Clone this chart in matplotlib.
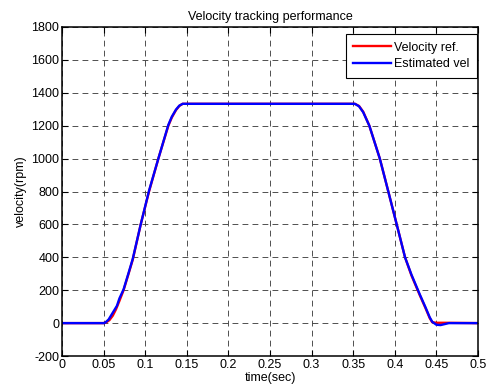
import matplotlib
matplotlib.use('Agg')
import matplotlib.pyplot as plt

# velocity reference (rpm) vs time (sec)
t_ref = [0, 0.05, 0.053, 0.057, 0.061, 0.065, 0.069, 0.074, 0.08, 0.085, 0.0946, 0.1046,
         0.1158, 0.1278, 0.132, 0.137, 0.141, 0.145, 0.35, 0.352, 0.357, 0.362, 0.3694,
         0.382, 0.3922, 0.4023, 0.4123, 0.42, 0.43, 0.437, 0.442, 0.445, 0.45, 0.46, 0.5]
v_ref = [0, 0, 4, 18, 45, 85, 135, 200, 300, 385, 600, 800,
         1000, 1200, 1250, 1295, 1320, 1333, 1333, 1333, 1320, 1285, 1200,
         1000, 800, 600, 400, 290, 170, 90, 30, 5, 2, 2, 0]

# estimated velocity
t_est = [0, 0.05, 0.052, 0.056, 0.06, 0.063, 0.066, 0.069, 0.074, 0.08, 0.085, 0.0946, 0.1046,
         0.1158, 0.1278, 0.132, 0.137, 0.141, 0.145, 0.35, 0.352, 0.357, 0.362, 0.3694,
         0.382, 0.3922, 0.4023, 0.4123, 0.42, 0.43, 0.437, 0.442, 0.445, 0.45, 0.455, 0.465, 0.5]
v_est = [0, 0, 3, 22, 55, 80, 105, 150, 205, 305, 390, 600, 805,
         1000, 1205, 1255, 1298, 1322, 1333, 1333, 1333, 1318, 1282, 1200,
         1000, 800, 600, 400, 295, 175, 95, 35, 8, -10, -12, 0, 0]

x_ticks = [0, 0.05, 0.1, 0.15, 0.2, 0.25, 0.3, 0.35, 0.4, 0.45, 0.5]
y_ticks = [-200, 0, 200, 400, 600, 800, 1000, 1200, 1400, 1600, 1800]

plt.rcParams['font.family'] = ['Liberation Sans', 'DejaVu Sans']
plt.rcParams['font.size'] = 9
plt.rcParams['axes.unicode_minus'] = False

fig = plt.figure(figsize=(4.91, 3.89), dpi=100)
ax = fig.add_axes([0.1263, 0.0848, 0.8472, 0.8458])

ax.plot(t_ref, v_ref, color='red', lw=1.7, label='Velocity ref.')
ax.plot(t_est, v_est, color='blue', lw=1.7, label='Estimated vel')

ax.set_xlim(0, 0.5)
ax.set_ylim(-200, 1800)
ax.set_xticks(x_ticks)
ax.set_xticklabels([('%g' % v) for v in x_ticks])
ax.set_yticks(y_ticks)
ax.tick_params(direction='in', length=4, width=0.8, top=True, right=True, pad=2)
ax.grid(True, color='0.2', linestyle=(0, (7, 5)), linewidth=0.6)
for s in ax.spines.values():
    s.set_linewidth(1.1)

ax.set_title('Velocity tracking performance', fontsize=9, pad=5)
ax.set_xlabel('time(sec)', labelpad=1)
ax.set_ylabel('velocity(rpm)', labelpad=3)

leg = ax.legend(loc='upper right', bbox_to_anchor=(0.997, 0.978), borderaxespad=0,
                fontsize=9, fancybox=False, framealpha=1, edgecolor='black',
                handlelength=3.0, handletextpad=0.25, borderpad=0.6, labelspacing=0.35)
leg.get_frame().set_linewidth(0.8)

fig.savefig('out.png', dpi=100)
